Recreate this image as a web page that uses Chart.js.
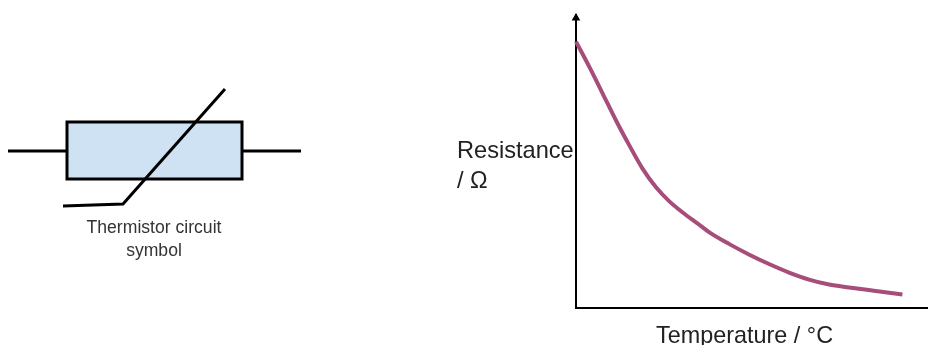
<!DOCTYPE html>
<html>
<head>
<meta charset="utf-8">
<title>Thermistor</title>
<script src="https://cdn.jsdelivr.net/npm/chart.js@4"></script>
<style>
    html, body { margin: 0; padding: 0; background: #fff; overflow: hidden; }
    body { position: relative; width: 928px; height: 345px; font-family: "Liberation Sans", Arial, sans-serif; }
    /* the reference is a soft, upscaled screenshot */
    #page { position: absolute; left: 0; top: 0; width: 928px; height: 345px; overflow: hidden; filter: blur(0.5px); }
    canvas { position: absolute; }
    #symbolChart { left: 0; top: 70px; }
    #curveChart { left: 560px; top: 0; }
    .label { position: absolute; color: #222; white-space: nowrap; }
    #yLabel { left: 457px; top: 135px; font-size: 23.6px; line-height: 30px; }
    #xLabel { left: 656px; top: 321px; font-size: 23.4px; line-height: 28px; }
    #symbolLabel { left: 54px; top: 216px; width: 200px; text-align: center; font-size: 17.6px; line-height: 23px; color: #333; }
</style>
</head>
<body>
<div id="page">
    <canvas id="symbolChart" width="310" height="200"></canvas>
    <canvas id="curveChart" width="372" height="345"></canvas>
    <div class="label" id="yLabel">Resistance<br>/ Ω</div>
    <div class="label" id="xLabel">Temperature / °C</div>
    <div class="label" id="symbolLabel">Thermistor circuit<br>symbol</div>
</div>

<script>
const temperature = [0, 3.8, 7.6, 11.4, 15.2, 19, 22.8, 26.6, 30.4, 34.7, 38, 43.7, 49.4, 55, 60.7, 66.4, 72.1, 77.8, 85.4, 93];
const resistance = [90.9, 82.3, 73.2, 64, 55.5, 47.5, 41.2, 36.4, 32.6, 28.8, 25.8, 21.8, 18.2, 15, 12.1, 9.7, 8, 7, 5.8, 4.6];

// Circuit symbol parts, in the symbol chart's own units
const leadLeft = [{ x: 8, y: 81 }, { x: 67, y: 81 }];
const leadRight = [{ x: 242, y: 81 }, { x: 301, y: 81 }];
const bodyOutline = [{ x: 67, y: 52 }, { x: 242, y: 52 }, { x: 242, y: 109 }, { x: 67, y: 109 }, { x: 67, y: 52 }];
const bodyFillTop = [{ x: 67, y: 52 }, { x: 242, y: 52 }];
const bodyFillBottom = 109;
const slash = [{ x: 63, y: 136 }, { x: 123, y: 134 }, { x: 225, y: 19 }];

function symbolLine(points) {
    return { data: points, borderColor: '#000', borderWidth: 3, pointRadius: 0, showLine: true, fill: false };
}

// Chart.js paints the first dataset on top, so the fill goes last
new Chart(document.getElementById('symbolChart'), {
    type: 'scatter',
    data: {
        datasets: [
            symbolLine(slash),
            { ...symbolLine(bodyOutline), borderCapStyle: 'square' },
            symbolLine(leadLeft),
            symbolLine(leadRight),
            { data: bodyFillTop, borderWidth: 0, pointRadius: 0, showLine: true, backgroundColor: '#cfe2f3', fill: { target: { value: bodyFillBottom } } }
        ]
    },
    options: {
        responsive: false,
        animation: false,
        layout: { padding: 0 },
        plugins: { legend: { display: false }, tooltip: { enabled: false } },
        scales: {
            x: { type: 'linear', display: false, min: 0, max: 310 },
            y: { type: 'linear', display: false, min: 0, max: 200, reverse: true }
        }
    }
});

new Chart(document.getElementById('curveChart'), {
    type: 'scatter',
    data: {
        datasets: [
            {
                data: temperature.map((t, i) => ({ x: t, y: resistance[i] })),
                borderColor: '#a64d79',
                borderWidth: 4,
                pointRadius: 0,
                showLine: true,
                cubicInterpolationMode: 'monotone',
                clip: false
            },
            // arrow head on top of the y axis
            {
                data: [{ x: 0, y: 99 }],
                pointStyle: 'triangle',
                pointRadius: 5,
                backgroundColor: '#000',
                borderWidth: 0,
                clip: false
            }
        ]
    },
    options: {
        responsive: false,
        animation: false,
        layout: { padding: { left: 16, top: 15, right: 0, bottom: 37 } },
        plugins: { legend: { display: false }, tooltip: { enabled: false } },
        scales: {
            x: {
                type: 'linear', min: 0, max: 100,
                grid: { display: false, drawTicks: false },
                ticks: { display: false },
                border: { color: '#000', width: 2 }
            },
            y: {
                type: 'linear', min: 0, max: 100,
                grid: { display: false, drawTicks: false },
                ticks: { display: false },
                border: { color: '#000', width: 2 }
            }
        }
    }
});
</script>
</body>
</html>
